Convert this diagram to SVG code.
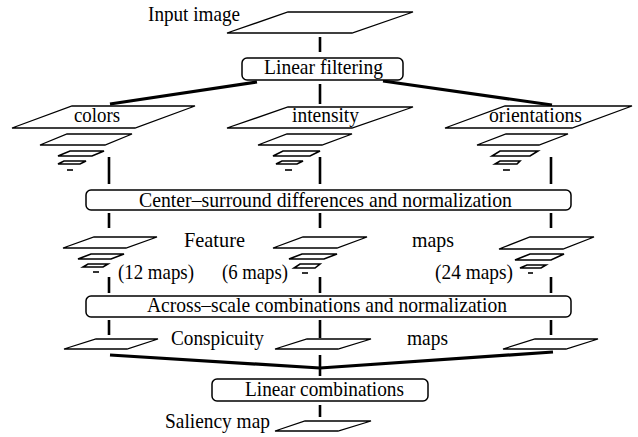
<svg xmlns="http://www.w3.org/2000/svg" width="638" height="437" viewBox="0 0 638 437">
<style>
.t{font-family:"Liberation Serif","Times New Roman",serif;font-size:21px;fill:#000}
.p{fill:#fff;stroke:#000;stroke-width:1.3;stroke-linejoin:miter}
.s{fill:none;stroke:#000;stroke-width:1.6}
.b{fill:#fff;stroke:#000;stroke-width:1.5}
.v{stroke:#000;stroke-width:2.6;fill:none}
.d{stroke:#000;stroke-width:3.2;fill:none}
</style>
<rect width="638" height="437" fill="#fff"/>
<g id="connectors">
<line class="v" x1="320" y1="37" x2="320" y2="52"/>
<line class="d" x1="257" y1="82" x2="110" y2="104"/>
<line class="v" x1="320" y1="84" x2="320" y2="104"/>
<line class="d" x1="383" y1="81" x2="552" y2="105"/>
<line class="v" x1="109" y1="157" x2="109" y2="184"/>
<line class="v" x1="320" y1="157" x2="320" y2="184"/>
<line class="v" x1="551" y1="157" x2="551" y2="184"/>
<line class="v" x1="109" y1="213" x2="109" y2="228"/>
<line class="v" x1="320" y1="213" x2="320" y2="228"/>
<line class="v" x1="551" y1="213" x2="551" y2="228"/>
<line class="v" x1="109" y1="277" x2="109" y2="293"/>
<line class="v" x1="320" y1="277" x2="320" y2="293"/>
<line class="v" x1="551" y1="277" x2="551" y2="293"/>
<line class="v" x1="109" y1="320" x2="109" y2="335"/>
<line class="v" x1="320" y1="320" x2="320" y2="338"/>
<line class="v" x1="551" y1="320" x2="551" y2="335"/>
<polyline class="d" points="110,355 320,368 553,352"/>
<line class="v" x1="320" y1="355" x2="320" y2="376"/>
<line class="v" x1="320" y1="405" x2="320" y2="417"/>
</g>
<g id="input-image">
<polygon class="p" points="288,12 413,12 352,33 227,33"/>
<text class="t" x="148" y="21" textLength="92" lengthAdjust="spacingAndGlyphs">Input image</text>
</g>
<g id="linear-filtering">
<rect class="b" x="242" y="58" width="161" height="22" rx="5"/>
<text class="t" x="264" y="74" textLength="119" lengthAdjust="spacingAndGlyphs">Linear filtering</text>
</g>
<g id="colors">
<polygon class="p" points="72,106 195,106 135,128 12,128"/>
<text class="t" x="74" y="122" textLength="46" lengthAdjust="spacingAndGlyphs">colors</text>
<polygon class="p" points="67,134 132,134 105,145 40,145"/>
<polygon class="s" points="70,151 104,151 92,156 58,156"/>
<polygon class="s" points="64,161 86,161 80,164 58,164"/>
<line class="s" x1="67" y1="170" x2="73" y2="170"/>
</g>
<g id="intensity">
<polygon class="p" points="288,107 413,107 352,128 227,128"/>
<text class="t" x="292" y="122" textLength="67" lengthAdjust="spacingAndGlyphs">intensity</text>
<polygon class="p" points="287,134 352,134 322,145 258,145"/>
<polygon class="s" points="283,151 320,151 310,156 273,156"/>
<polygon class="s" points="282,161 303,161 297,164 276,164"/>
<line class="s" x1="285" y1="170" x2="292" y2="170"/>
</g>
<g id="orientations">
<polygon class="p" points="505,106 632,106 572,128 445,128"/>
<text class="t" x="489" y="122" textLength="93" lengthAdjust="spacingAndGlyphs">orientations</text>
<polygon class="p" points="506,134 568,134 539,145 477,145"/>
<polygon class="s" points="500,151 538,151 530,156 492,156"/>
<polygon class="s" points="500,161 520,161 517,164 495,164"/>
<line class="s" x1="503" y1="170" x2="510" y2="170"/>
</g>
<g id="center-surround">
<rect class="b" x="86" y="190" width="485" height="20" rx="5"/>
<text class="t" x="139" y="207" textLength="373" lengthAdjust="spacingAndGlyphs">Center–surround differences and normalization</text>
</g>
<g id="feature-maps">
<text class="t" x="184" y="247" textLength="61" lengthAdjust="spacingAndGlyphs">Feature</text>
<text class="t" x="412" y="247" textLength="42" lengthAdjust="spacingAndGlyphs">maps</text>
<polygon class="p" points="94,237 157,237 126,248 63,248"/>
<polygon class="s" points="91,254 124,254 111,259 78,259"/>
<polygon class="s" points="88,264 108,264 103,267 83,267"/>
<line class="s" x1="93" y1="272" x2="99" y2="272"/>
<text class="t" x="118" y="279" textLength="76" lengthAdjust="spacingAndGlyphs">(12 maps)</text>
<polygon class="p" points="303,237 367,237 337,248 273,248"/>
<polygon class="s" points="302,254 337,254 324,259 289,259"/>
<polygon class="s" points="300,264 320,264 315,268 294,268"/>
<line class="s" x1="302" y1="273" x2="308" y2="273"/>
<text class="t" x="222" y="279" textLength="66" lengthAdjust="spacingAndGlyphs">(6 maps)</text>
<polygon class="p" points="530,237 594,237 563,249 499,249"/>
<polygon class="s" points="530,254 564,254 551,260 515,260"/>
<polygon class="s" points="527,265 546,265 541,268 520,268"/>
<line class="s" x1="528" y1="273" x2="533" y2="273"/>
<text class="t" x="435" y="279" textLength="78" lengthAdjust="spacingAndGlyphs">(24 maps)</text>
</g>
<g id="across-scale">
<rect class="b" x="86" y="296" width="485" height="21" rx="5"/>
<text class="t" x="147" y="312" textLength="360" lengthAdjust="spacingAndGlyphs">Across–scale combinations and normalization</text>
</g>
<g id="conspicuity-maps">
<polygon class="p" points="96,339 158,339 127,349 64,349"/>
<text class="t" x="171" y="345" textLength="93" lengthAdjust="spacingAndGlyphs">Conspicuity</text>
<polygon class="p" points="307,339 371,339 338,349 275,349"/>
<text class="t" x="407" y="345" textLength="41" lengthAdjust="spacingAndGlyphs">maps</text>
<polygon class="p" points="535,339 598,339 566,349 503,349"/>
</g>
<g id="linear-combinations">
<rect class="b" x="212" y="379" width="216" height="22" rx="5"/>
<text class="t" x="245" y="396" textLength="159" lengthAdjust="spacingAndGlyphs">Linear combinations</text>
</g>
<g id="saliency-map">
<polygon class="p" points="305,421 371,421 338,431 275,431"/>
<text class="t" x="165" y="428" textLength="105" lengthAdjust="spacingAndGlyphs">Saliency map</text>
</g>
</svg>
